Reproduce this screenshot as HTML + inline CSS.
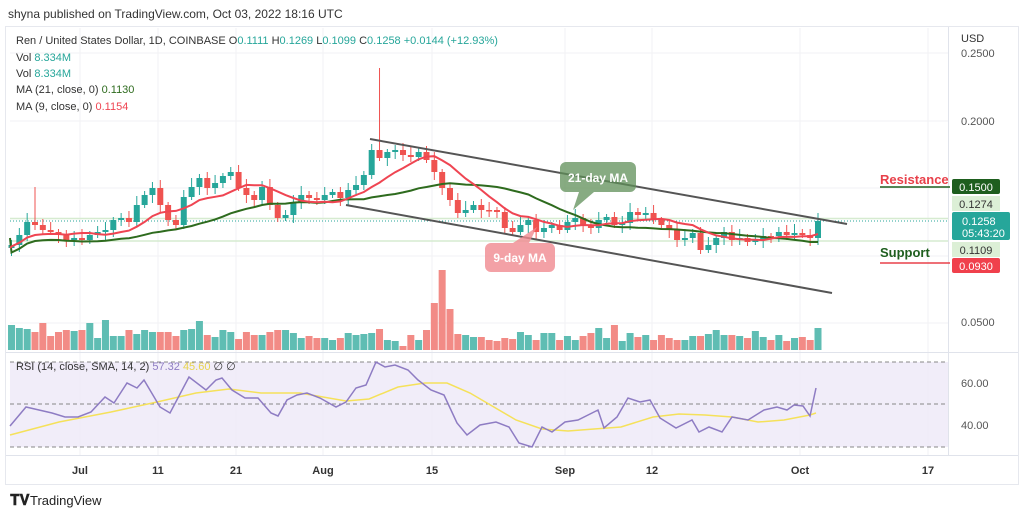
<!DOCTYPE html>
<html><head><meta charset="utf-8"><style>
body{margin:0;width:1024px;height:518px;background:#fff;font-family:"Liberation Sans",sans-serif;overflow:hidden}
svg{position:absolute;left:0;top:0}
</style></head><body>
<svg id="s" width="1024" height="518" xmlns="http://www.w3.org/2000/svg" font-family="Liberation Sans, sans-serif">
<text x="8" y="18" font-size="12" fill="#333">shyna published on TradingView.com, Oct 03, 2022 18:16 UTC</text>
<rect x="5.5" y="26.5" width="1013" height="458" fill="none" stroke="#e6e8ee"/>
<g stroke="#f2f2f4" stroke-width="1">
<line x1="10" y1="53" x2="948" y2="53"/><line x1="10" y1="121" x2="948" y2="121"/><line x1="10" y1="188" x2="948" y2="188"/><line x1="10" y1="256" x2="948" y2="256"/><line x1="10" y1="323" x2="948" y2="323"/>
<line x1="80" y1="28" x2="80" y2="455"/><line x1="158" y1="28" x2="158" y2="455"/><line x1="236" y1="28" x2="236" y2="455"/><line x1="323" y1="28" x2="323" y2="455"/><line x1="432" y1="28" x2="432" y2="455"/><line x1="565" y1="28" x2="565" y2="455"/><line x1="652" y1="28" x2="652" y2="455"/><line x1="800" y1="28" x2="800" y2="455"/><line x1="928" y1="28" x2="928" y2="455"/>
</g>
<line x1="948.5" y1="27" x2="948.5" y2="455" stroke="#e0e3eb"/>
<line x1="6" y1="352.5" x2="1018" y2="352.5" stroke="#e0e3eb"/>
<line x1="6" y1="455.5" x2="1018" y2="455.5" stroke="#e0e3eb"/>
<rect x="10" y="362" width="938" height="85" fill="#ede9f8" opacity="0.8"/>
<g stroke="#888" stroke-dasharray="4,3"><line x1="10" y1="362" x2="948" y2="362"/><line x1="10" y1="404" x2="948" y2="404"/><line x1="10" y1="447" x2="948" y2="447"/></g>
<line x1="10" y1="218.5" x2="948" y2="218.5" stroke="#d6ebd0" stroke-width="1.5"/>
<line x1="10" y1="241" x2="948" y2="241" stroke="#d6ebd0" stroke-width="1.5"/>
<line x1="10" y1="221" x2="948" y2="221" stroke="#26a69a" stroke-dasharray="1,2"/>
<g id="vol"></g><g id="cdl"></g>
<polyline id="ma21" fill="none" stroke="#2e6b1e" stroke-width="2"/>
<polyline id="ma9" fill="none" stroke="#ef4552" stroke-width="2"/>
<line x1="370" y1="139" x2="847" y2="224" stroke="#555" stroke-width="2"/>
<line x1="346" y1="205" x2="832" y2="293" stroke="#555" stroke-width="2"/>
<path d="M566,162 h64 a6,6 0 0 1 6,6 v18 a6,6 0 0 1 -6,6 h-36 l-21,18 l6,-18 h-13 a6,6 0 0 1 -6,-6 v-18 a6,6 0 0 1 6,-6z" fill="#5f8f58" opacity="0.75"/>
<text x="598" y="182" font-size="12" font-weight="bold" fill="#fff" text-anchor="middle">21-day MA</text>
<path d="M491,243 h58 a6,6 0 0 1 6,6 v17 a6,6 0 0 1 -6,6 h-58 a6,6 0 0 1 -6,-6 v-17 a6,6 0 0 1 6,-6 h22 l24,-16 l-8,16z" fill="#f08a90" opacity="0.8"/>
<text x="520" y="262" font-size="12" font-weight="bold" fill="#fff" text-anchor="middle">9-day MA</text>
<polyline fill="none" stroke="#f5e15a" stroke-width="1.5" points="10,435 59,422 111,412 157,402 196,393 229,389 261,393 300,393 346,401 369,399 398,387 425,383 447,383 470,393 516,420 542,429 568,431 594,429 621,427 653,417 679,414 705,415 732,417 758,422 784,420 810,415 816,413"/>
<polyline fill="none" stroke="#8e7cc3" stroke-width="1.5" points="10,426 26,407 39,410 52,413 65,417 78,417 91,412 105,397 114,403 127,383 137,388 144,380 160,407 170,413 189,377 206,390 216,380 222,378 232,390 245,398 258,398 271,413 278,416 287,400 297,395 307,393 320,398 336,407 346,402 356,388 366,385 376,362 385,367 395,365 408,370 418,380 431,390 444,395 457,423 467,435 480,425 496,422 509,427 519,443 532,447 542,427 552,432 565,422 578,420 598,410 604,428 617,417 628,398 640,402 650,400 660,418 676,428 692,420 699,432 709,427 722,432 732,417 748,420 764,410 777,407 787,410 794,405 803,406 810,416 816,388"/>
<g font-size="11" fill="#333">
<text x="16" y="44">Ren / United States Dollar, 1D, COINBASE  <tspan fill="#333">O</tspan><tspan fill="#26a69a">0.1111</tspan>  H<tspan fill="#26a69a">0.1269</tspan>  L<tspan fill="#26a69a">0.1099</tspan>  C<tspan fill="#26a69a">0.1258</tspan>  <tspan fill="#26a69a">+0.0144 (+12.93%)</tspan></text>
<text x="16" y="61">Vol  <tspan fill="#26a69a">8.334M</tspan></text>
<text x="16" y="77">Vol  <tspan fill="#26a69a">8.334M</tspan></text>
<text x="16" y="93">MA (21, close, 0)  <tspan fill="#2e6b1e">0.1130</tspan></text>
<text x="16" y="110">MA (9, close, 0)  <tspan fill="#ef4552">0.1154</tspan></text>
<text x="16" y="370">RSI (14, close, SMA, 14, 2)  <tspan fill="#8e7cc3">57.32</tspan>  <tspan fill="#e8d44d">45.60</tspan>  ∅  ∅</text>
<text x="961" y="42">USD</text>
<text x="961" y="57" fill="#555">0.2500</text>
<text x="961" y="125" fill="#555">0.2000</text>
<text x="961" y="326" fill="#555">0.0500</text>
<text x="961" y="387" fill="#555">60.00</text>
<text x="961" y="429" fill="#555">40.00</text>
</g>
<text x="880" y="184" font-size="13" font-weight="bold" fill="#e8404a">Resistance</text>
<line x1="880" y1="187" x2="950" y2="187" stroke="#1e5e1e" stroke-width="1.5"/>
<text x="880" y="257" font-size="13" font-weight="bold" fill="#1e5e1e">Support</text>
<line x1="880" y1="263" x2="950" y2="263" stroke="#e8404a" stroke-width="1.5"/>
<rect x="952" y="179" width="48" height="15" rx="2" fill="#1e5e1e"/><text x="976" y="191" font-size="11" fill="#fff" text-anchor="middle">0.1500</text>
<rect x="952" y="196" width="48" height="15" fill="#dcefd6"/><text x="976" y="208" font-size="11" fill="#333" text-anchor="middle">0.1274</text>
<rect x="952" y="212" width="58" height="28" rx="2" fill="#26a69a"/><text x="962" y="225" font-size="11" fill="#fff">0.1258</text><text x="962" y="237" font-size="11" fill="#fff">05:43:20</text>
<rect x="952" y="242" width="48" height="15" fill="#dcefd6"/><text x="976" y="254" font-size="11" fill="#333" text-anchor="middle">0.1109</text>
<rect x="952" y="258" width="48" height="15" rx="2" fill="#f0404c"/><text x="976" y="270" font-size="11" fill="#fff" text-anchor="middle">0.0930</text>
<g font-size="11" font-weight="bold" fill="#333" text-anchor="middle">
<text x="80" y="474">Jul</text><text x="158" y="474">11</text><text x="236" y="474">21</text><text x="323" y="474">Aug</text><text x="432" y="474">15</text><text x="565" y="474">Sep</text><text x="652" y="474">12</text><text x="800" y="474">Oct</text><text x="928" y="474">17</text>
</g>
<text x="10" y="505" font-size="15" font-weight="bold" fill="#222">𝐓𝐕</text>
<text x="30" y="505" font-size="13" fill="#222">TradingView</text>
</svg>
<script>
var C=[248,245,235,222,225,230,232,235,240,238,240,235,232,230,220,218,222,205,195,188,205,220,225,197,187,178,188,183,176,172,188,195,200,187,205,218,215,202,195,198,200,195,192,198,190,185,175,150,158,152,150,155,157,152,160,172,188,200,213,210,205,210,210,212,228,232,225,220,232,228,225,230,222,218,225,228,220,217,225,223,212,215,213,220,225,230,240,238,233,250,245,238,232,240,238,242,240,236,236,232,235,233,235,238,221];
var V=[25,22,21,18,27,14,18,20,19,20,27,12,30,14,14,20,16,20,18,18,18,14,20,21,29,15,13,20,18,11,18,15,15,18,20,20,17,12,14,12,12,10,12,17,15,16,17,21,10,9,4,15,10,20,47,80,41,16,15,13,13,10,9,12,11,18,15,10,17,17,10,14,10,14,17,22,12,25,9,17,13,15,10,15,12,10,10,14,14,16,20,15,15,14,12,19,13,10,15,9,12,13,10,22];
var ns="http://www.w3.org/2000/svg",cd=document.getElementById("cdl"),vg=document.getElementById("vol");
function el(t,a,p){var e=document.createElementNS(ns,t);for(var k in a)e.setAttribute(k,a[k]);p.appendChild(e);return e;}
var n=C.length-1,dx=7.83,x0=818-(n-1)*dx;
var m9=[],m21=[];
for(var i=1;i<=n;i++){
 var x=x0+(i-1)*dx,o=C[i-1],c=C[i],up=c<o,col=up?"#26a69a":"#ef5350";
 var hi=Math.min(o,c)-3-((i*37)%7),lo=Math.max(o,c)+3+((i*53)%6);
 if(i==48)hi=68; if(i==4)hi=187;
 el("line",{x1:x,x2:x,y1:hi,y2:lo,stroke:col,"stroke-width":1},cd);
 el("rect",{x:x-3,y:Math.min(o,c),width:6,height:Math.max(1.5,Math.abs(c-o)),fill:col},cd);
 var h=V[i-1]||12;el("rect",{x:x-3.5,y:350-h,width:7,height:h,fill:up?"#5fbdb3":"#f28b86"},vg);
 function ma(k){var s=0,c2=0;for(var j=Math.max(0,i-k+1);j<=i;j++){s+=C[j];c2++;}return s/c2+ (k==21?6:0);}
 m9.push(x+","+ma(9).toFixed(1));m21.push(x+","+ma(21).toFixed(1));
}
m9.unshift("10,"+C[0]);m21.unshift("10,"+(C[0]-10));
document.getElementById("ma9").setAttribute("points",m9.join(" "));
document.getElementById("ma21").setAttribute("points",m21.join(" "));
</script>
</body></html>
